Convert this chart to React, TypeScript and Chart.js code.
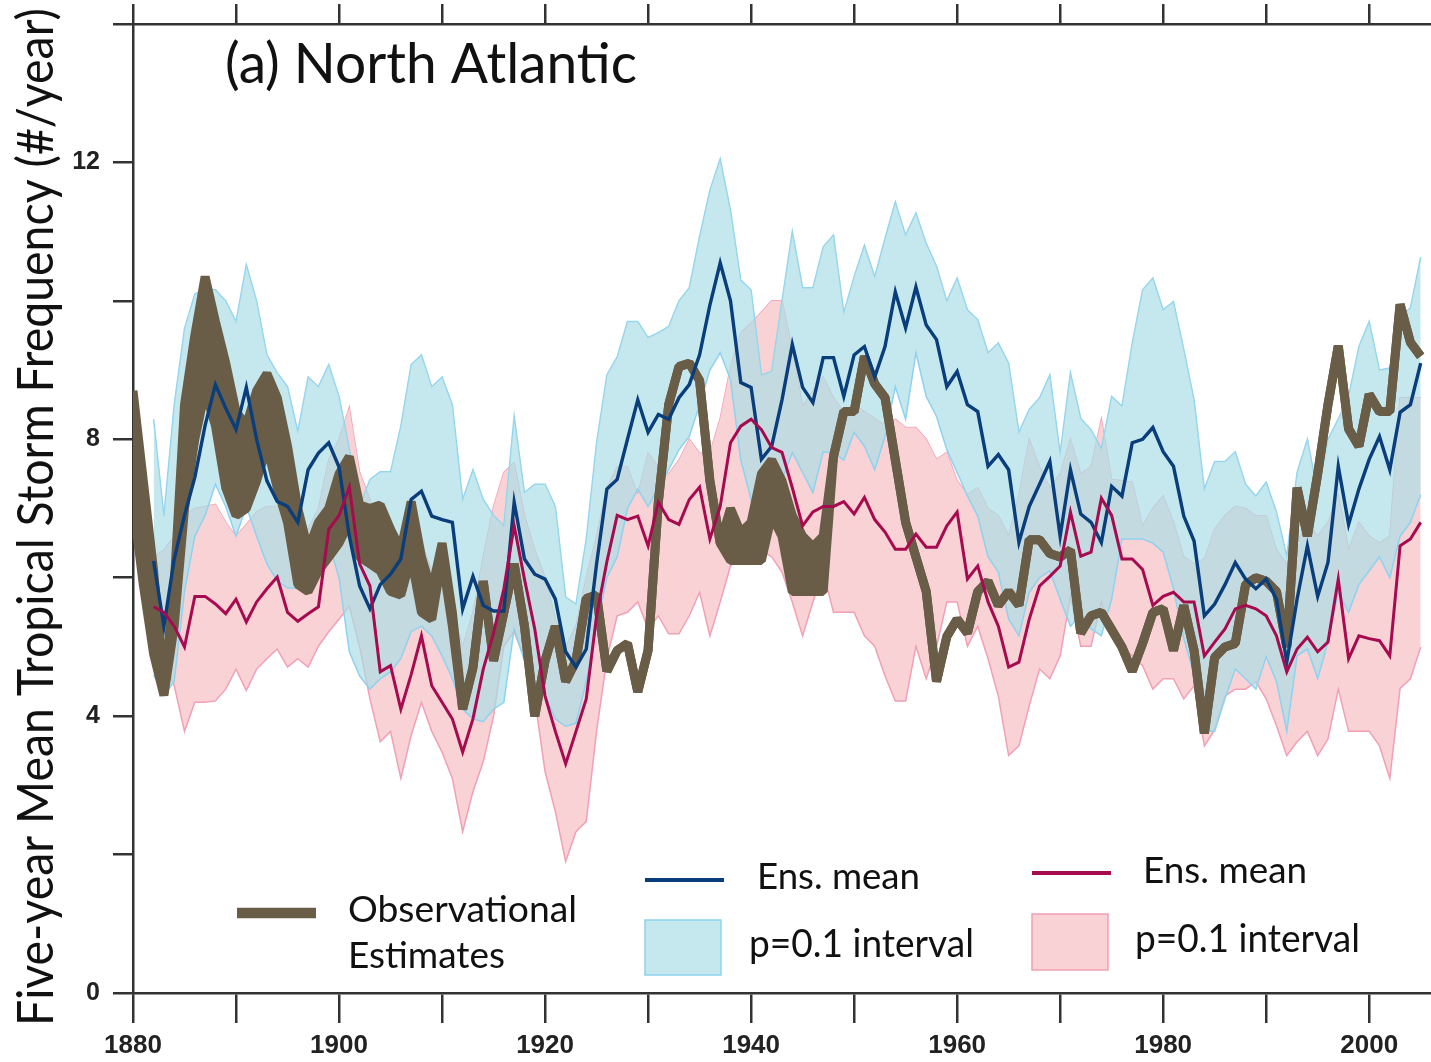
import React, { useEffect, useRef } from 'react';
import { Chart, registerables } from 'chart.js';

Chart.register(...registerables);

// ---------- data ----------
const OBS_START = 1880;
const MODEL_START = 1882;

// Observational estimates: upper / lower edge of the brown band (1880-2005)
const obsHigh = [
  8.7, 7.4, 6.1, 4.4, 5.9, 8.5, 9.5, 10.35, 9.7, 9.1,
  8.4, 8.2, 8.7, 8.95, 8.6, 7.9, 7.0, 6.4, 6.8, 7.0,
  7.5, 7.75, 7.05, 7.0, 7.05, 6.7, 6.4, 7.1, 6.3, 5.8,
  6.5, 5.5, 4.1, 4.7, 5.95, 4.8, 5.5, 6.2, 5.3, 4.0,
  4.8, 5.3, 4.5, 4.8, 5.7, 5.75, 4.65, 4.95, 5.05, 4.35,
  4.95, 7.1, 8.5, 9.05, 9.1, 8.85, 7.4, 6.5, 7.0, 6.65,
  6.8, 7.5, 7.7, 7.4, 6.9, 6.6, 6.45, 6.6, 7.75, 8.4,
  8.4, 9.2, 8.8, 8.6, 7.7, 6.8, 6.3, 5.8, 4.5, 5.15,
  5.4, 5.2, 5.8, 5.95, 5.6, 5.8, 5.6, 6.55, 6.55, 6.35,
  6.3, 6.4, 5.2, 5.45, 5.5, 5.25, 5.0, 4.65, 5.05, 5.5,
  5.55, 4.95, 5.6, 4.95, 3.75, 4.85, 5.0, 5.05, 5.9, 6.0,
  5.95, 5.8, 5.0, 7.3, 6.6, 7.5, 8.5, 9.35, 8.15, 7.9,
  8.65, 8.4, 8.4, 9.95, 9.4, 9.2,
];
const obsLow = [
  7.1, 5.9, 4.9, 4.3, 5.3, 7.0, 8.0, 8.7, 8.2, 7.3,
  6.9, 7.0, 7.4, 7.9, 7.3, 6.8, 5.9, 5.8, 6.1, 6.3,
  6.5, 6.8, 6.3, 6.2, 6.1, 5.8, 5.75, 6.3, 5.5, 5.4,
  6.3, 5.3, 4.1, 4.7, 5.95, 4.8, 5.5, 6.2, 5.3, 4.0,
  4.8, 5.3, 4.5, 4.8, 5.7, 5.75, 4.65, 4.95, 5.05, 4.35,
  4.95, 7.1, 8.5, 9.05, 9.1, 8.85, 7.4, 6.5, 6.25, 6.25,
  6.25, 6.25, 6.9, 6.6, 5.8, 5.8, 5.8, 5.8, 7.75, 8.4,
  8.4, 9.2, 8.8, 8.6, 7.7, 6.8, 6.3, 5.8, 4.5, 5.15,
  5.4, 5.2, 5.8, 5.95, 5.6, 5.8, 5.6, 6.55, 6.55, 6.35,
  6.3, 6.4, 5.2, 5.45, 5.5, 5.25, 5.0, 4.65, 5.05, 5.5,
  5.55, 4.95, 5.6, 4.95, 3.75, 4.85, 5.0, 5.05, 5.9, 6.0,
  5.95, 5.8, 5.0, 7.3, 6.6, 7.5, 8.5, 9.35, 8.15, 7.9,
  8.65, 8.4, 8.4, 9.95, 9.4, 9.2,
];

// Blue model ensemble (1882-2005)
const blueMean = [
  6.24, 5.3, 6.27, 6.9, 7.45, 8.2, 8.79, 8.45,
  8.14, 8.75, 8.0, 7.4, 7.1, 7.03, 6.8, 7.56, 7.8, 7.95,
  7.6, 6.6, 5.88, 5.55, 5.9, 6.05, 6.27, 7.13, 7.25, 6.89,
  6.84, 6.8, 5.55, 6.02, 5.6, 5.52, 5.52, 7.09, 6.27, 6.05,
  5.98, 5.69, 4.93, 4.71, 4.97, 6.2, 7.28, 7.42, 8.0, 8.57,
  8.1, 8.36, 8.29, 8.6, 8.79, 9.22, 9.94, 10.55, 10.0, 8.82,
  8.75, 7.71, 7.9, 8.57, 9.37, 8.75, 8.53, 9.18, 9.18, 8.62,
  9.22, 9.34, 8.9, 9.34, 10.13, 9.61, 10.2, 9.65, 9.44, 8.76,
  8.98, 8.5, 8.4, 7.61, 7.78, 7.56, 6.51, 7.03, 7.35, 7.68,
  6.6, 7.56, 6.92, 6.8, 6.51, 7.32, 7.18, 7.95, 8.0, 8.17,
  7.82, 7.61, 6.89, 6.53, 5.45, 5.62, 5.9, 6.22, 5.98, 5.84,
  5.98, 5.69, 4.78, 5.69, 6.46, 5.73, 6.22, 7.61, 6.77, 7.28,
  7.71, 8.04, 7.56, 8.39, 8.5, 9.1,
];
const blueUpper = [
  8.29, 6.89, 8.5, 9.6, 10.1, 10.17, 10.16, 10.0,
  9.7, 10.52, 10.0, 9.22, 8.96, 8.76, 8.11, 8.9, 8.76, 9.08,
  8.62, 7.86, 7.03, 7.42, 7.53, 7.53, 8.19, 9.08, 9.22, 8.76,
  8.9, 8.5, 7.13, 7.56, 7.13, 6.9, 6.75, 8.33, 7.23, 7.35,
  7.35, 7.03, 5.72, 5.62, 6.56, 7.95, 8.93, 9.19, 9.7, 9.7,
  9.47, 9.54, 9.63, 10.0, 10.19, 10.93, 11.6, 12.05, 11.31, 10.3,
  10.16, 8.93, 8.98, 10.0, 11.0, 10.19, 10.19, 10.78, 10.95, 9.83,
  10.35, 10.8, 10.35, 10.9, 11.43, 10.95, 11.27, 10.83, 10.5, 10.0,
  10.33, 9.87, 9.73, 9.25, 9.39, 9.1, 8.1, 8.43, 8.6, 8.93,
  7.8, 8.96, 8.3, 8.14, 7.86, 8.62, 8.48, 9.39, 10.16, 10.33,
  9.87, 9.99, 9.3, 8.57, 7.28, 7.68, 7.68, 7.82, 7.35, 7.18,
  7.38, 6.95, 6.31, 7.52, 8.0, 7.23, 8.0, 8.29, 8.62, 9.34,
  9.7, 9.0, 9.03, 9.77, 9.9, 10.63,
];
const blueLower = [
  4.6, 4.3, 4.5, 5.8, 6.6, 6.9, 7.35, 7.03,
  6.6, 7.03, 6.6, 6.2, 5.95, 5.85, 5.85, 6.0, 6.2, 6.5,
  6.0, 4.93, 4.58, 4.39, 4.54, 4.64, 4.83, 5.22, 5.3, 5.16,
  4.87, 4.54, 4.1, 3.96, 3.92, 4.1, 4.2, 5.26, 4.8, 4.5,
  4.3, 3.96, 3.85, 3.9, 4.5, 5.3, 6.0, 6.3, 7.0, 7.28,
  7.03, 7.3, 7.56, 7.85, 8.04, 8.5, 9.0, 9.25, 8.86, 7.7,
  7.13, 6.6, 6.9, 7.4, 7.81, 7.52, 7.23, 7.82, 7.8, 7.7,
  8.1, 7.9, 7.56, 8.04, 8.76, 8.29, 9.25, 8.62, 8.33, 7.85,
  7.52, 7.18, 6.89, 6.3, 6.08, 5.4, 5.16, 5.79, 6.0, 6.1,
  5.69, 5.3, 5.45, 5.26, 5.16, 5.69, 6.56, 6.56, 6.56, 6.5,
  6.37, 5.84, 5.12, 4.6, 3.78, 3.78, 4.25, 4.68, 4.54, 4.39,
  4.86, 4.5, 3.78, 4.87, 4.97, 4.54, 5.07, 5.79, 5.5, 5.9,
  6.1, 6.3, 6.0, 6.6, 6.8, 7.2,
];

// Red model ensemble (1882-2005)
const redMean = [
  5.58, 5.5, 5.3, 5.0, 5.73, 5.73, 5.62, 5.48,
  5.69, 5.36, 5.65, 5.84, 6.01, 5.5, 5.37, 5.48, 5.58, 6.7,
  6.9, 7.31, 6.2, 5.88, 4.64, 4.73, 4.1, 4.6, 5.16, 4.44,
  4.2, 3.96, 3.48, 3.96, 4.68, 5.2, 5.84, 6.75, 5.98, 5.26,
  4.29, 3.78, 3.31, 3.78, 4.25, 5.45, 6.23, 6.9, 6.84, 6.89,
  6.46, 7.09, 6.84, 6.77, 7.13, 7.31, 6.56, 7.03, 7.95, 8.19,
  8.29, 8.14, 7.88, 7.81, 7.3, 6.75, 6.95, 7.03, 7.03, 7.1,
  6.92, 7.16, 6.84, 6.66, 6.41, 6.41, 6.63, 6.44, 6.44, 6.75,
  6.95, 5.98, 6.17, 5.65, 5.3, 4.71, 4.78, 5.4, 5.88, 6.02,
  6.17, 6.95, 6.31, 6.37, 7.15, 6.9, 6.27, 6.27, 6.12, 5.6,
  5.73, 5.79, 5.65, 5.65, 4.87, 5.07, 5.26, 5.55, 5.6, 5.55,
  5.45, 5.16, 4.64, 4.97, 5.14, 4.93, 5.07, 5.98, 4.83, 5.16,
  5.12, 5.09, 4.87, 6.46, 6.56, 6.8,
];
const redUpper = [
  6.3, 6.4, 6.6, 6.9, 7.0, 7.03, 7.06, 6.8,
  6.6, 6.77, 6.95, 7.03, 7.03, 6.8, 6.6, 6.7, 7.0, 7.7,
  8.0, 8.46, 7.52, 7.13, 6.4, 6.3, 6.0, 6.6, 6.5, 6.1,
  5.8, 5.5, 5.0, 5.5, 6.3, 7.03, 7.52, 7.66, 6.9, 6.4,
  6.0, 5.4, 5.0, 5.3, 6.0, 6.6, 7.3, 7.6, 7.6, 7.2,
  7.8, 7.6, 7.5, 7.7, 8.0, 7.8, 7.8, 8.3, 9.05, 9.54,
  9.68, 9.84, 10.0, 10.0, 9.3, 8.47, 8.7, 8.9, 8.6, 8.4,
  8.5, 8.4, 8.3, 8.2, 8.29, 8.17, 8.17, 8.0, 7.71, 7.81,
  7.4, 7.2, 7.3, 7.0, 6.9, 6.6, 7.2, 8.0, 7.6, 7.3,
  7.5, 8.0, 7.5, 7.6, 8.29, 7.42, 7.4, 7.38, 6.74, 7.0,
  7.18, 6.8, 6.3, 6.2, 6.27, 6.7, 6.9, 7.03, 7.0, 6.89,
  6.89, 6.4, 6.2, 6.5, 6.8, 6.6, 6.8, 7.2, 6.4, 6.8,
  6.6, 6.5, 6.6, 8.6, 8.6, 8.6,
];
const redLower = [
  5.0, 4.8, 4.44, 3.78, 4.2, 4.2, 4.22, 4.39,
  4.68, 4.37, 4.68, 4.83, 4.97, 4.71, 4.83, 4.71, 5.01, 5.22,
  5.4, 5.59, 5.0, 4.25, 3.63, 3.78, 3.1, 3.72, 4.2, 3.78,
  3.48, 3.1, 2.33, 2.91, 3.34, 4.0, 5.01, 5.22, 4.83, 4.25,
  3.2, 2.62, 1.9, 2.33, 2.48, 3.78, 4.83, 5.45, 5.5, 5.65,
  5.26, 5.45, 5.19, 5.19, 5.45, 5.79, 5.16, 5.65, 6.17, 6.3,
  6.4, 6.4, 6.3, 6.08, 5.65, 5.16, 5.65, 6.08, 5.5, 5.5,
  5.5, 5.16, 5.01, 4.58, 4.22, 4.22, 5.01, 4.54, 5.0, 5.65,
  5.65, 5.01, 5.3, 4.83, 4.29, 3.43, 3.57, 4.15, 4.68, 4.54,
  4.87, 5.73, 5.01, 5.01, 5.65, 5.16, 5.01, 4.87, 4.73, 4.39,
  4.54, 4.54, 4.25, 4.44, 3.57, 3.8, 4.29, 4.39, 4.39, 4.5,
  4.25, 3.86, 3.43, 3.63, 3.78, 3.43, 3.67, 4.39, 3.78, 3.78,
  3.78, 3.57, 3.1, 4.4, 4.54, 5.0,
];

const X_MIN = 1880;
const X_MAX = 2006;
const X_STEP = 10;
const X_LABEL_EVERY = 20;
const Y_MIN = 0;
const Y_MAX = 14;
const Y_STEP = 2;
const Y_LABEL_EVERY = 4;

const PANEL_TITLE = '(a) North Atlantic';
const Y_TITLE = 'Five-year Mean Tropical Storm Frequency (#/year)';
const LEGEND_OBS = ['Observational', 'Estimates'];
const LEGEND_MEAN = 'Ens. mean';
const LEGEND_BAND = 'p=0.1 interval';

// ---------- styles ----------
const BROWN = '#6a5d47';
const NAVY = '#0a3e7b';
const CRIMSON = '#a60a4f';
const BLUE_FILL = 'rgba(170,221,230,0.68)';
const BLUE_EDGE = '#8ed2f0';
const PINK_FILL = '#f9d2d6';
const PINK_EDGE = '#f1a0b5';
const AXIS = '#333333';
const INK = '#111111';
const FONT = 'Lato, "Open Sans", sans-serif';
const TICK_FONT = '"Liberation Sans", Arial, sans-serif';

const W = 1431;
const H = 1062;

function pts(start: number, values: number[]) {
  return values.map((v, i) => ({ x: start + i, y: v }));
}

// draw text with a given cap height, squeezed/stretched to a given width
function fitText(ctx: CanvasRenderingContext2D, text: string, x: number, baseline: number, cap: number, width: number) {
  const size = cap / 0.7165;
  ctx.font = `${size}px ${FONT}`;
  const w = ctx.measureText(text).width;
  ctx.save();
  ctx.translate(x, baseline);
  ctx.scale(width / w, 1);
  ctx.fillText(text, 0, 0);
  ctx.restore();
}

const decorPlugin = {
  id: 'decor',
  afterDraw(chart: any) {
    const ctx: CanvasRenderingContext2D = chart.ctx;
    const area = chart.chartArea;
    ctx.save();
    ctx.fillStyle = INK;
    ctx.textBaseline = 'alphabetic';
    ctx.textAlign = 'left';

    // y-axis title, rotated, reading bottom to top
    ctx.save();
    ctx.translate(53, area.bottom + 33);
    ctx.rotate(-Math.PI / 2);
    fitText(ctx, Y_TITLE, 0, 0, 35.5, 1018);
    ctx.restore();

    // panel title
    fitText(ctx, PANEL_TITLE, 225, 83, 40, 412);

    // legend: observations
    ctx.lineCap = 'butt';
    ctx.strokeStyle = BROWN;
    ctx.lineWidth = 10.5;
    ctx.beginPath(); ctx.moveTo(237, 913); ctx.lineTo(316, 913); ctx.stroke();
    fitText(ctx, LEGEND_OBS[0], 348, 922, 26, 229);
    fitText(ctx, LEGEND_OBS[1], 348, 968, 26, 157);

    // legend: blue ensemble
    ctx.strokeStyle = NAVY;
    ctx.lineWidth = 4;
    ctx.beginPath(); ctx.moveTo(645, 880); ctx.lineTo(724, 880); ctx.stroke();
    fitText(ctx, LEGEND_MEAN, 757, 889, 26, 163);
    ctx.fillStyle = BLUE_FILL;
    ctx.fillRect(645, 920, 76, 55);
    ctx.strokeStyle = BLUE_EDGE;
    ctx.lineWidth = 1.5;
    ctx.strokeRect(645, 920, 76, 55);
    ctx.fillStyle = INK;
    fitText(ctx, LEGEND_BAND, 749, 957, 28, 225);

    // legend: red ensemble
    ctx.strokeStyle = CRIMSON;
    ctx.lineWidth = 4;
    ctx.beginPath(); ctx.moveTo(1032, 873); ctx.lineTo(1111, 873); ctx.stroke();
    fitText(ctx, LEGEND_MEAN, 1143, 883, 26, 164);
    ctx.fillStyle = PINK_FILL;
    ctx.fillRect(1032, 914, 76, 56);
    ctx.strokeStyle = PINK_EDGE;
    ctx.lineWidth = 1.5;
    ctx.strokeRect(1032, 914, 76, 56);
    ctx.fillStyle = INK;
    fitText(ctx, LEGEND_BAND, 1135, 952, 28, 225);

    ctx.restore();
  },
};

export default function App() {
  const ref = useRef<HTMLCanvasElement | null>(null);

  useEffect(() => {
    document.body.style.margin = '0';
    document.body.style.overflow = 'hidden';
    const canvas = ref.current!;

    const bandLine = (color: string) => ({
      borderColor: color,
      borderWidth: 1.5,
      pointRadius: 0,
      tension: 0,
      xAxisID: 'x',
      yAxisID: 'y',
    });
    const axisGrid = (len: number) => ({
      drawOnChartArea: false, drawTicks: true, tickLength: len,
      color: AXIS, tickColor: AXIS, lineWidth: 2.5, tickWidth: 2.5,
    });

    const chart = new Chart(canvas, {
      type: 'line',
      data: {
        datasets: [
          { label: 'red upper', data: pts(MODEL_START, redUpper), ...bandLine(PINK_EDGE), fill: false, order: 7 },
          { label: 'red lower', data: pts(MODEL_START, redLower), ...bandLine(PINK_EDGE), fill: '-1', backgroundColor: PINK_FILL, order: 6 },
          { label: 'blue upper', data: pts(MODEL_START, blueUpper), ...bandLine(BLUE_EDGE), fill: false, order: 5 },
          { label: 'blue lower', data: pts(MODEL_START, blueLower), ...bandLine(BLUE_EDGE), fill: '-1', backgroundColor: BLUE_FILL, order: 4 },
          {
            label: 'obs high', data: pts(OBS_START, obsHigh), borderColor: BROWN, borderWidth: 9,
            borderJoinStyle: 'bevel', pointRadius: 0, tension: 0, fill: false, order: 3, xAxisID: 'x', yAxisID: 'y',
          },
          {
            label: 'obs low', data: pts(OBS_START, obsLow), borderColor: BROWN, borderWidth: 9,
            borderJoinStyle: 'bevel', pointRadius: 0, tension: 0, fill: '-1', backgroundColor: BROWN, order: 2,
            xAxisID: 'x', yAxisID: 'y',
          },
          {
            label: 'blue mean', data: pts(MODEL_START, blueMean), borderColor: NAVY, borderWidth: 3.4,
            pointRadius: 0, tension: 0, fill: false, order: 1, xAxisID: 'x', yAxisID: 'y',
          },
          {
            label: 'red mean', data: pts(MODEL_START, redMean), borderColor: CRIMSON, borderWidth: 3,
            pointRadius: 0, tension: 0, fill: false, order: 0, xAxisID: 'x', yAxisID: 'y',
          },
        ] as any,
      },
      options: {
        responsive: false,
        animation: false,
        devicePixelRatio: 1,
        layout: { padding: { top: 4, left: 0, right: 0, bottom: 0 } },
        plugins: { legend: { display: false }, tooltip: { enabled: false } },
        scales: {
          x: {
            type: 'linear',
            position: 'bottom',
            min: X_MIN,
            max: X_MAX,
            afterFit: (s: any) => { s.height = 69; s.paddingLeft = 0; s.paddingRight = 0; },
            ticks: {
              stepSize: X_STEP,
              includeBounds: false,
              autoSkip: false,
              maxRotation: 0,
              padding: 7,
              color: '#222222',
              font: { family: TICK_FONT, size: 26, weight: 'bold' },
              callback: (v: any) => (Number(v) % X_LABEL_EVERY === 0 ? String(v) : ''),
            },
            grid: axisGrid(30),
            border: { display: true, color: AXIS, width: 2.5 },
          },
          x2: {
            type: 'linear',
            position: 'top',
            min: X_MIN,
            max: X_MAX,
            afterFit: (s: any) => { s.height = 20; s.paddingLeft = 0; s.paddingRight = 0; },
            ticks: { display: false, stepSize: X_STEP, includeBounds: false, autoSkip: false },
            grid: axisGrid(20),
            border: { display: true, color: AXIS, width: 2.5 },
          },
          y: {
            type: 'linear',
            position: 'left',
            min: Y_MIN,
            max: Y_MAX,
            afterFit: (s: any) => { s.width = 133; s.paddingTop = 0; s.paddingBottom = 0; },
            ticks: {
              stepSize: Y_STEP,
              padding: 13,
              color: '#222222',
              font: { family: TICK_FONT, size: 25, weight: 'bold' },
              callback: (v: any) => (Number(v) % Y_LABEL_EVERY === 0 ? String(v) : ''),
            },
            grid: axisGrid(20),
            border: { display: true, color: AXIS, width: 2.5 },
            title: { display: false },
          },
        },
      } as any,
      plugins: [decorPlugin],
    });
    return () => chart.destroy();
  }, []);

  return (
    <div style={{ position: 'absolute', left: 0, top: 0, width: W, height: H, background: '#ffffff' }}>
      <canvas ref={ref} width={W} height={H} style={{ display: 'block', width: W, height: H }} />
    </div>
  );
}
